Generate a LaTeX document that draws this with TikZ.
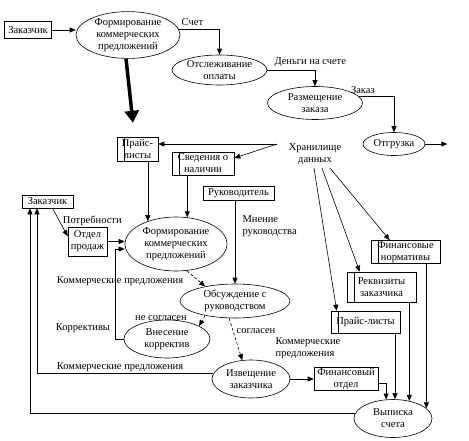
\documentclass[tikz,border=0pt]{standalone}
\usepackage{fontspec}
\setmainfont{Liberation Serif}
\usetikzlibrary{positioning,shapes.geometric,arrows.meta}

\begin{document}
\begin{tikzpicture}[x=1pt,y=-1pt,>={Triangle[length=6pt,width=5pt]},line width=0.6pt,on grid,
    every node/.append style={font=\fontsize{10.5}{12}\selectfont},
    box/.style={draw,rectangle,inner sep=1pt,align=center},
    store/.style={box,path picture={\draw ([xshift=7pt]path picture bounding box.north west) -- ([xshift=7pt]path picture bounding box.south west);}},
    proc/.style={draw,ellipse,inner sep=0pt,align=center}]
  \useasboundingbox (0,0) rectangle (469,440);

  \node[box,minimum width=47pt,minimum height=17pt] (1) at (28,30) {Заказчик};
  \node[proc,minimum width=104pt,minimum height=44pt,below right=5pt and 100pt of 1] (2) {Формирование\\коммерческих\\предложений};
  \node[proc,minimum width=95pt,minimum height=30pt,below right=35pt and 91.5pt of 2] (3) {Отслеживание\\оплаты};
  \node[proc,minimum width=95pt,minimum height=33pt,below right=33pt and 95.5pt of 3] (4) {Размещение\\заказа};
  \node[proc,minimum width=62pt,minimum height=23pt,below right=41pt and 79pt of 4] (5) {Отгрузка};
  \coordinate[right=22pt of 5.east] (e1);

  \draw[->] (1.east) -- (1.east -| 2.west);
  \draw[->] (2.7) -| node[pos=0.17,above] (t1) {Счет} (3.north);
  \draw[->] (3.east) -| node[pos=0.45,above] (t2) {Деньги на счете} (4.north);
  \draw[->] (4.8) -| node[pos=0.05,above] (t3) {Заказ} (5.north);
  \draw[->] (5.east) -- (e1);

  %% data stores
  \node[store,minimum width=41pt,minimum height=24pt,below right=114pt and 9.5pt of 2] (6) {Прайс-\\листы};
  \node[store,minimum width=62pt,minimum height=23pt,below right=14.5pt and 65.5pt of 6] (7) {Сведения о\\наличии};
  \node[align=center,below=51pt of 4] (8) {Хранилище\\данных};
  \node[store,minimum width=69pt,minimum height=22pt,below right=98pt and 90.5pt of 8] (18) {Финансовые\\нормативы};
  \node[store,minimum width=69pt,minimum height=30pt,below left=35pt and 24pt of 18] (19) {Реквизиты\\заказчика};
  \node[store,minimum width=69pt,minimum height=22pt,below left=35pt and 16pt of 19] (20) {Прайс-листы};

  \draw[-{Triangle[length=12pt,width=14pt]},line width=3.5pt,shorten >=14pt] ([xshift=-2pt]2.south) -- ([xshift=-3pt]6.north);
  \coordinate (f) at ([xshift=-8pt,yshift=10pt]8.west);
  \draw[->] (f) -- (f -| 6.east);
  \draw[->] (f) -- (7.10);
  \draw[->] ([xshift=-1pt]8.south) -- ([xshift=6pt]20.north west);
  \draw[->] ([xshift=7pt]8.south) -- ([xshift=13pt]19.north west);
  \draw[->] ([xshift=15pt]8.south) -- ([xshift=19pt]18.north west);

  %% lower part
  \node[box,minimum width=71pt,minimum height=14pt,below right=29.5pt and 35.5pt of 7] (9) {Руководитель};
  \node[box,minimum width=51pt,minimum height=13pt,below right=171.5pt and 19.5pt of 1] (10) {Заказчик};
  \node[box,minimum width=39pt,minimum height=29pt,below right=40pt and 40pt of 10] (11) {Отдел\\продаж};
  \node[proc,minimum width=102pt,minimum height=54pt,below right=2.5pt and 88.5pt of 11] (12) {Формирование\\коммерческих\\предложений};
  \node[proc,minimum width=110pt,minimum height=34pt,below right=57pt and 59pt of 12] (13) {Обсуждение с\\руководством};
  \node[proc,minimum width=86pt,minimum height=38pt,below left=38pt and 68pt of 13] (14) {Внесение\\корректив};
  \node[proc,minimum width=78pt,minimum height=38pt,below right=78pt and 16pt of 13] (15) {Извещение\\заказчика};
  \node[box,minimum width=64pt,minimum height=23pt,right=95pt of 15] (16) {Финансовый\\отдел};
  \node[proc,minimum width=78pt,minimum height=38pt,below right=39.5pt and 47pt of 16] (17) {Выписка\\счета};

  \draw[->] (6.south -| 12.141) -- (12.141);
  \draw[->] (7.south -| 12.67) -- (12.67);
  \draw[->] (9.south -| 13.north) -- node[pos=0.31,right,xshift=4pt,align=left] (t4) {Мнение\\руководства} (13.north);
  \draw[->] ([xshift=5pt]10.south) -- node[pos=0.45,right] (t5) {Потребности} (11.165);
  \draw[->] (11.east) -- (11.east -| 12.west);
  \draw[->] (14.west) -- ++(-8,0) |- ([yshift=-5pt]12.west);
  \draw[->,dash pattern=on 3pt off 2pt] (12.-68) -- (13.154);
  \draw[->,dash pattern=on 3pt off 2pt] (13.206) -- (14.22);
  \draw[->,dash pattern=on 3pt off 2pt] (13.251) -- node[pos=0.3,right] (t6) {согласен} (15.115);
  \draw[->] (15.east) -- (15.east -| 16.west);
  \draw[->] ([yshift=-4.5pt]16.east) -| (17.110);
  \draw[->] (20.south -| 17.84) -- (17.84);
  \draw[->] (19.south -| 17.47) -- (17.47);
  \draw[->] (18.south -| 17.17) -- (17.17);
  \draw[->] (17.172) -| ([xshift=-17.5pt]10.south);
  \draw[->] (15.172) -| ([xshift=-10.5pt]10.south);

  \node (t7) at (120,281) {Коммерческие предложения};
  \node (t8) at (83,328) {Коррективы};
  \node (t9) at (161,318) {не согласен};
  \node[anchor=west,align=left] (t10) at (272,348) {Коммерческие\\предложения};
  \node (t11) at (120,367) {Коммерческие предложения};
\end{tikzpicture}
\end{document}
